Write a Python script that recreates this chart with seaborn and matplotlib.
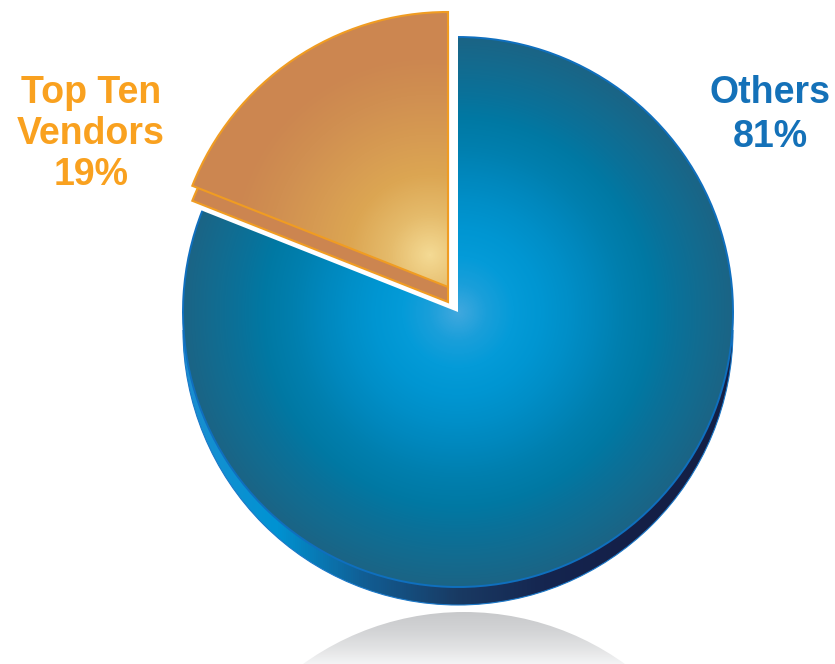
import matplotlib
matplotlib.use("Agg")
import matplotlib.pyplot as plt
from matplotlib.patches import Arc, Circle
import numpy as np
import seaborn as sns

# Market share data
segments = ["Top Ten\nVendors", "Others"]
shares = [19, 81]
label_colors = ["#f9a11f", "#1471b8"]

# Canvas and geometry, in pixels from the top-left corner
W, H = 835, 664
R = 275
OTHERS_C = (458, 312)
VENDOR_C = (448, 287)
OTHERS_DEPTH = 18
VENDOR_DEPTH = 15

# Colour ramps
OTHERS_RAMP = ["#40a8de", "#1a9fda", "#049bd8", "#0096d2", "#008fc8", "#0087bc",
               "#007fae", "#0079a4", "#0a7199", "#136b8f", "#1b6485"]
VENDOR_RAMP = ["#f4da94", "#e5bb6b", "#dca653", "#d69a52", "#d08f51", "#cc8650"]
RIM_RAMP = ["#1c8ed0", "#0093d3", "#115c92", "#193a63", "#15254f", "#141f47", "#141f45"]
SHADOW_RAMP = ["#c8c9cb", "#d2d3d5", "#e2e3e4", "#f6f6f7"]

sns.set_theme(style="white")
fig = plt.figure(figsize=(W / 100, H / 100), dpi=100)
ax = fig.add_axes([0, 0, 1, 1])

yy, xx = np.mgrid[0:H, 0:W] + 0.5


def to_data(c):
    return (c[0], H - c[1])


def pie_layer(others_c, vendor_c, zorder, **props):
    """Draw the two shares as a pie, with each slice at its own centre."""
    wedges, _ = ax.pie(shares, startangle=90, radius=R, center=to_data(others_c),
                       wedgeprops=props)
    wedges[0].set_center(to_data(vendor_c))
    for w in wedges:
        w.set_zorder(zorder)
    return wedges


def fill(values, ramp, clip, zorder):
    """Paint a scalar field through a blended palette, clipped to a patch."""
    cmap = sns.blend_palette(ramp, n_colors=256, as_cmap=True)
    im = ax.imshow(np.clip(values, 0, 1), cmap=cmap, vmin=0, vmax=1,
                   extent=(0, W, 0, H), origin="upper", zorder=zorder,
                   interpolation="bilinear")
    im.set_clip_path(clip)
    return im


def radial(c, rmax):
    return np.hypot(xx - c[0], yy - c[1]) / rmax


# Mirror image of the pie fading out under it
shadow = Circle((464, H - 887), R, fc="none", ec="none", zorder=1)
ax.add_patch(shadow)

# Side wall of the large slice
rim_c = (OTHERS_C[0], OTHERS_C[1] + OTHERS_DEPTH)
rim = pie_layer(rim_c, (VENDOR_C[0], VENDOR_C[1] + VENDOR_DEPTH), 2,
                facecolor="none", edgecolor="none")
rim[0].set_visible(False)

# Top face of the large slice
top = pie_layer(OTHERS_C, VENDOR_C, 4, facecolor="none", edgecolor="none")
top[0].set_visible(False)
others_top = top[1]

# White halo that lifts the small slice off the pie
halo_side = pie_layer(OTHERS_C, (VENDOR_C[0], VENDOR_C[1] + VENDOR_DEPTH), 6,
                      facecolor="white", edgecolor="white", linewidth=5,
                      joinstyle="round")
halo_top = pie_layer(OTHERS_C, VENDOR_C, 6, facecolor="white", edgecolor="white",
                     linewidth=5, joinstyle="round")
halo_side[1].set_visible(False)
halo_top[1].set_visible(False)

# Side wall of the small slice
v_side = pie_layer(OTHERS_C, (VENDOR_C[0], VENDOR_C[1] + VENDOR_DEPTH), 7,
                   facecolor="#cc8550", edgecolor="#f09c22", linewidth=1.5)
v_side[1].set_visible(False)

# Top face of the small slice: gradient plus outline
v_top = pie_layer(OTHERS_C, VENDOR_C, 10, facecolor="none", edgecolor="#f09c22",
                  linewidth=1.5)
v_top[1].set_visible(False)
vendor_top = v_top[0]

fill((yy - 612) / 54, SHADOW_RAMP, shadow, 1)
fill((xx - 183) / 550, RIM_RAMP, rim[1], 2)
fill(radial(OTHERS_C, R), OTHERS_RAMP, others_top, 4)
fill(radial((430, 255), 200), VENDOR_RAMP, vendor_top, 9)

# Thin bright edges around the large slice
theta1, theta2 = others_top.theta1, others_top.theta2
ax.add_patch(Arc(to_data(OTHERS_C), 2 * R, 2 * R, theta1=theta1, theta2=theta2,
                 ec="#0f6fbe", lw=1.4, zorder=5))
ax.add_patch(Arc(to_data(rim_c), 2 * R, 2 * R, theta1=180, theta2=360,
                 ec="#1b78c8", lw=0.8, zorder=3))

# Labels
label_font = dict(family="Liberation Sans", fontweight="bold", fontsize=27,
                  ha="center", va="center", zorder=12)
ax.text(91, H - 134, f"{segments[0]}\n{shares[0]}%", color=label_colors[0],
        linespacing=1.18, **label_font)
ax.text(770, H - 115, f"{segments[1]}\n{shares[1]}%", color=label_colors[1],
        linespacing=1.28, **label_font)

ax.set_xlim(0, W)
ax.set_ylim(0, H)
ax.set_aspect("auto")
ax.axis("off")
fig.savefig("out.png", dpi=100, facecolor="white")
